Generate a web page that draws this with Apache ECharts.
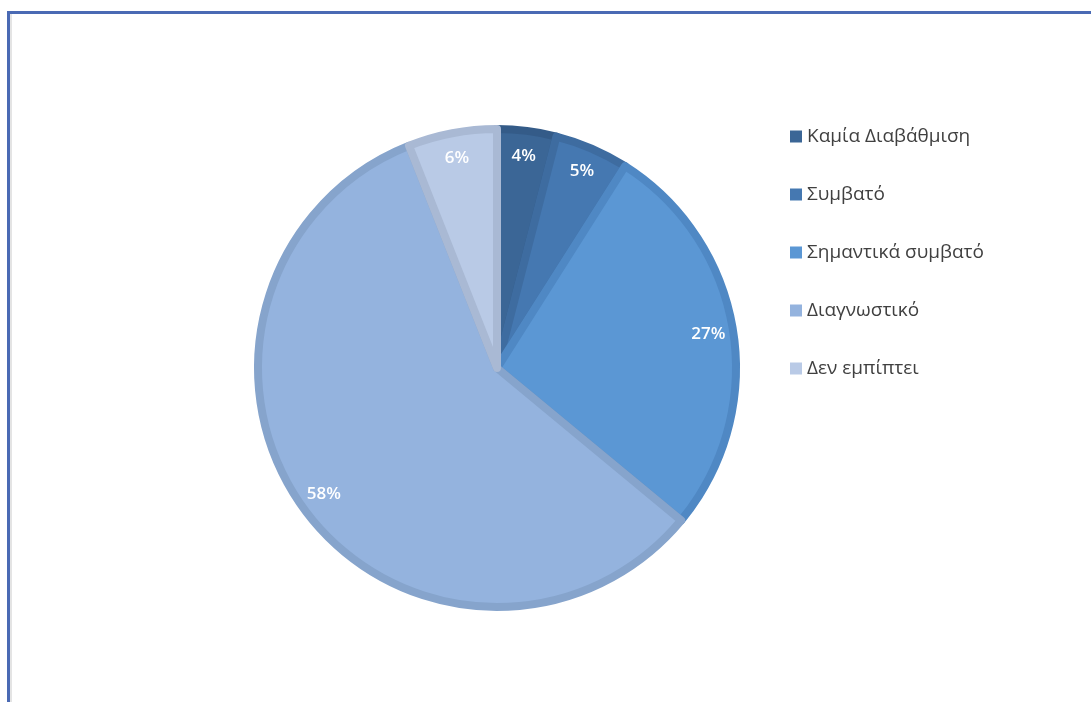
<!DOCTYPE html>
<html>
<head>
<meta charset="utf-8">
<script src="https://cdn.jsdelivr.net/npm/echarts@6/dist/echarts.min.js"></script>
<style>html,body{margin:0;padding:0;background:#fff}#c{width:1091px;height:702px}</style>
</head>
<body>
<div id="c"></div>
<script>
const categories = ['Καμία Διαβάθμιση', 'Συμβατό', 'Σημαντικά συμβατό', 'Διαγνωστικό', 'Δεν εμπίπτει'];
const values = [4, 5, 27, 58, 6];
const fillColors = ['#3b6696', '#4578b1', '#5b97d4', '#94b3de', '#b9cae6'];
const edgeColors = ['#345b88', '#3e6ca0', '#4f88c4', '#86a4cc', '#a9b9d4'];

const chart = echarts.init(document.getElementById('c'));
const mainData = categories.map((n, i) => ({
  name: n, value: values[i],
  itemStyle: { color: fillColors[i], borderColor: edgeColors[i] }
}));
const labelData = categories.map((n, i) => ({ name: n, value: values[i] }));

chart.setOption({
  animation: false,
  legend: {
    orient: 'vertical',
    left: 785,
    top: 122,
    icon: 'rect',
    itemWidth: 12,
    itemHeight: 12,
    itemGap: 39,
    itemStyle: { borderWidth: 0 },
    textStyle: { fontFamily: 'Open Sans', fontSize: 19, lineHeight: 19, color: '#404040', padding: [0, 0, 0, 0] },
    data: categories
  },
  graphic: [
    { type: 'rect', shape: { x: 7, y: 11, width: 3, height: 700 }, style: { fill: '#4a6ab4' }, silent: true },
    { type: 'rect', shape: { x: 10, y: 14, width: 2, height: 700 }, style: { fill: '#e4e4e4' }, silent: true },
    { type: 'rect', shape: { x: 7, y: 11, width: 1090, height: 3 }, style: { fill: '#4a6ab4' }, silent: true }
  ],
  series: [
    {
      type: 'pie',
      center: [497, 368],
      radius: [0, 239],
      startAngle: 90,
      clockwise: true,
      label: { show: false },
      labelLine: { show: false },
      itemStyle: { borderWidth: 8 },
      emphasis: { disabled: true },
      data: mainData
    },
    {
      type: 'pie',
      center: [497, 368],
      radius: [176, 246],
      startAngle: 90,
      clockwise: true,
      silent: true,
      itemStyle: { color: 'rgba(0,0,0,0)' },
      label: {
        show: true, position: 'inside', formatter: '{c}%',
        color: '#ffffff', fontFamily: 'Open Sans', fontSize: 17, fontWeight: 600
      },
      labelLine: { show: false },
      emphasis: { disabled: true },
      data: labelData
    }
  ]
});
</script>
</body>
</html>
